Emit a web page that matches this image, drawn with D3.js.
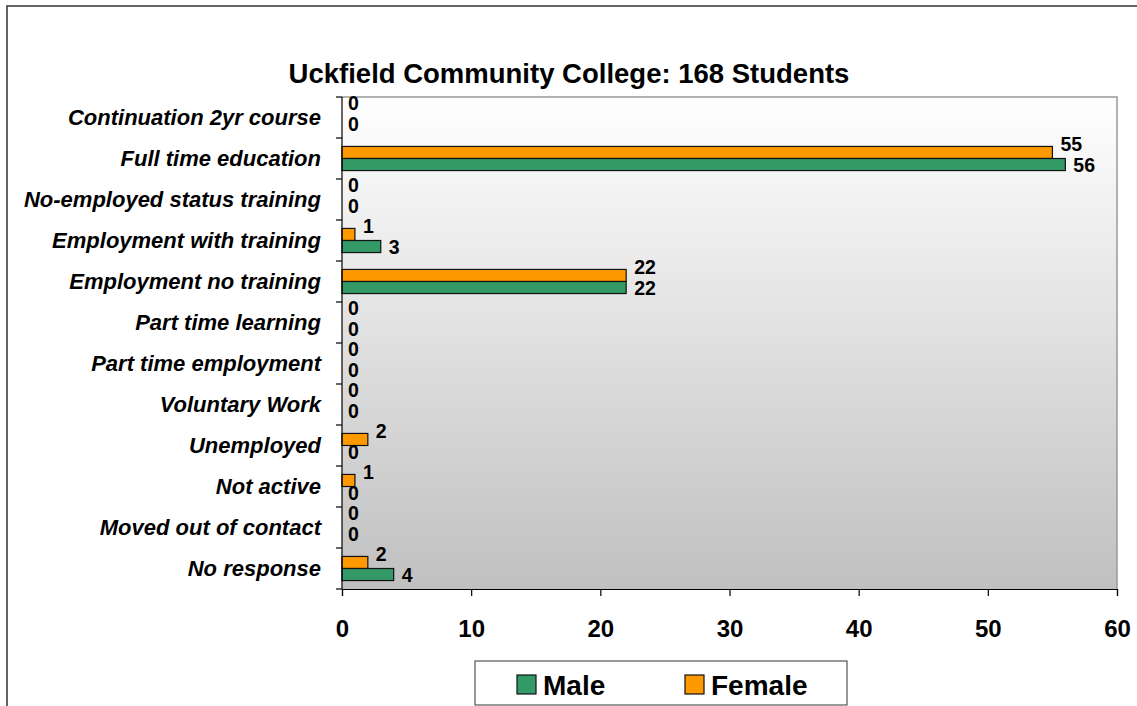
<!DOCTYPE html>
<html lang="en">
<head>
  <meta charset="UTF-8" />
  <title>Uckfield Community College: 168 Students</title>
  <style>
    html, body { margin:0; padding:0; background:#fff; }
    svg { display:block; font-family:"Liberation Sans", Arial, sans-serif; }
    .cat { font-weight:bold; font-style:italic; font-size:22px; fill:#000; }
    .val { font-weight:bold; font-size:19.5px; fill:#000; }
    .tick-x { font-weight:bold; font-size:24px; fill:#000; }
  </style>
</head>
<body>
  <svg id="chart" width="1137" height="706"></svg>
  <script src="https://d3js.org/d3.v7.min.js"></script>
  <script>
    // Data
    const categories = [
      "Continuation 2yr course", "Full time education", "No-employed status training",
      "Employment with training", "Employment no training", "Part time learning",
      "Part time employment", "Voluntary Work", "Unemployed", "Not active",
      "Moved out of contact", "No response"
    ];
    const femaleValues = [0, 55, 0, 1, 22, 0, 0, 0, 2, 1, 0, 2];
    const maleValues   = [0, 56, 0, 3, 22, 0, 0, 0, 0, 0, 0, 4];
    const xTicks = [0, 10, 20, 30, 40, 50, 60];
    const seriesNames = ["Male", "Female"];
    const seriesColors = { Male: "#339966", Female: "#ff9900" };

    const svg = d3.select('#chart');

    // layout
    const plot = { left: 342, right: 1117, top: 97, bottom: 589 };

    // outer chart border (runs off right/bottom edges)
    svg.append('rect')
      .attr('x', 7).attr('y', 6).attr('width', 1200).attr('height', 800)
      .attr('fill', 'none').attr('stroke', '#333').attr('stroke-width', 1.5);

    // title
    svg.append('text')
      .attr('x', 569).attr('y', 83)
      .attr('text-anchor', 'middle')
      .attr('font-weight', 'bold').attr('font-size', '27.5px')
      .text('Uckfield Community College: 168 Students');

    const x = d3.scaleLinear().domain([0, 60]).range([plot.left, plot.right]);
    const y = d3.scaleBand().domain(categories).range([plot.top, plot.bottom]);
    const inner = d3.scaleBand().domain(["Female", "Male"])
      .range([0, y.bandwidth()]).paddingInner(0).paddingOuter(0.7);

    // background gradient
    const defs = svg.append('defs');
    const grad = defs.append('linearGradient').attr('id', 'bg')
      .attr('x1', 0).attr('y1', 0).attr('x2', 0).attr('y2', 1);
    grad.append('stop').attr('offset', '0%').attr('stop-color', '#ffffff');
    grad.append('stop').attr('offset', '100%').attr('stop-color', '#c0c0c0');

    svg.append('rect')
      .attr('x', plot.left).attr('y', plot.top)
      .attr('width', plot.right - plot.left).attr('height', plot.bottom - plot.top)
      .attr('fill', 'url(#bg)');

    // grey frame top + right
    svg.append('path')
      .attr('d', `M${plot.left},${plot.top}H${plot.right}V${plot.bottom}`)
      .attr('fill', 'none').attr('stroke', '#999').attr('stroke-width', 1.5);

    // bars
    const rows = categories.map((c, i) => ({ cat: c, Female: femaleValues[i], Male: maleValues[i] }));
    const barData = rows.flatMap(r => ["Female", "Male"].map(s => ({ cat: r.cat, s, v: r[s] })));

    svg.append('g').selectAll('rect').data(barData.filter(d => d.v > 0)).join('rect')
      .attr('x', x(0))
      .attr('y', d => y(d.cat) + inner(d.s))
      .attr('width', d => x(d.v) - x(0))
      .attr('height', inner.bandwidth())
      .attr('fill', d => seriesColors[d.s])
      .attr('stroke', '#111').attr('stroke-width', 1.2);

    // value labels (female ones nudged up so the pair doesn't collide)
    svg.append('g').selectAll('text').data(barData).join('text')
      .attr('class', 'val')
      .attr('x', d => d.v > 0 ? x(d.v) + 8 : x(0) + 6)
      .attr('y', d => y(d.cat) + inner(d.s) + inner.bandwidth() / 2 + (d.s === 'Female' ? -8 : 0))
      .attr('dy', '0.36em')
      .text(d => d.v);

    // y axis
    const yAxis = svg.append('g');
    yAxis.append('line')
      .attr('x1', plot.left).attr('x2', plot.left)
      .attr('y1', plot.top).attr('y2', plot.bottom)
      .attr('stroke', '#000').attr('stroke-width', 1.2);
    const bounds = categories.map(c => y(c)).concat([plot.bottom]);
    yAxis.selectAll('.yt').data(bounds).join('line')
      .attr('x1', plot.left - 6).attr('x2', plot.left)
      .attr('y1', d => d).attr('y2', d => d)
      .attr('stroke', '#000').attr('stroke-width', 1.2);
    yAxis.selectAll('text').data(categories).join('text')
      .attr('class', 'cat')
      .attr('x', 321)
      .attr('y', d => y(d) + y.bandwidth() / 2)
      .attr('dy', '0.36em')
      .attr('text-anchor', 'end')
      .text(d => d);

    // x axis
    const xAxis = svg.append('g').attr('transform', `translate(0,${plot.bottom})`)
      .call(d3.axisBottom(x).tickValues(xTicks).tickSize(7).tickPadding(24).tickFormat(d3.format('d')));
    xAxis.select('.domain').attr('stroke', '#000').attr('stroke-width', 1.2);
    xAxis.selectAll('.tick line').attr('stroke', '#000').attr('stroke-width', 1.2);
    xAxis.selectAll('.tick text')
      .attr('class', 'tick-x')
      .attr('font-family', null).attr('font-size', null);

    // legend
    const lg = svg.append('g');
    lg.append('rect')
      .attr('x', 475).attr('y', 661).attr('width', 372).attr('height', 44)
      .attr('fill', '#fff').attr('stroke', '#555').attr('stroke-width', 1.2);
    const legendX = { Male: 517, Female: 685 };
    const items = lg.selectAll('g').data(seriesNames).join('g')
      .attr('transform', d => `translate(${legendX[d]},674)`);
    items.append('rect')
      .attr('y', 1)
      .attr('width', 19).attr('height', 19)
      .attr('fill', d => seriesColors[d])
      .attr('stroke', '#111').attr('stroke-width', 1.2);
    items.append('text')
      .attr('x', 26).attr('y', 21)
      .attr('font-weight', 'bold').attr('font-size', '28px')
      .text(d => d);
  </script>
</body>
</html>
